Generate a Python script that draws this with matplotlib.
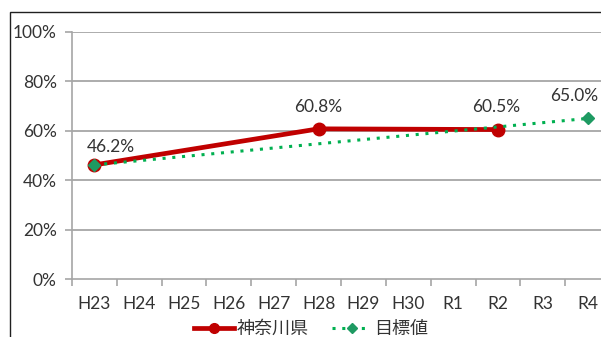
import matplotlib
matplotlib.use("Agg")
import matplotlib.pyplot as plt
import numpy as np
from matplotlib.patches import Rectangle
from matplotlib.lines import Line2D

categories = ["H23", "H24", "H25", "H26", "H27", "H28", "H29", "H30", "R1", "R2", "R3", "R4"]
kanagawa = [46.2, None, None, None, None, 60.8, None, None, None, 60.5, None, None]
target = [46.2, None, None, None, None, None, None, None, None, None, None, 65.0]
y_ticks = [0, 20, 40, 60, 80, 100]
y_tick_labels = ["0%", "20%", "40%", "60%", "80%", "100%"]

FONT = ["Lato", "Noto Sans CJK JP", "DejaVu Sans"]
plt.rcParams["font.family"] = FONT

fig = plt.figure(figsize=(6.01, 3.37), dpi=100)
W, H = 601, 337
ax = fig.add_axes([72 / W, 1 - 279 / H, 538 / W, (279 - 32) / H])

red = "#C00000"
green_line = "#00B050"
green_mk = "#1E9A62"
grid_c = "#A6A6A6"
txt_c = "#333333"

for y in y_ticks[1:]:
    ax.axhline(y, color=grid_c, lw=1.3, zorder=0)

kx = [i for i, v in enumerate(kanagawa) if v is not None]
ky = [v for v in kanagawa if v is not None]
tx = [i for i, v in enumerate(target) if v is not None]
ty = [v for v in target if v is not None]

ax.plot(kx, ky, color=red, lw=3.4, marker="o", ms=9, mfc=red, mec=red, zorder=3,
        solid_capstyle="round")
ax.plot(tx, ty, color=green_line, lw=2.2, ls=(0, (1, 2.2)), marker="D", ms=6,
        mfc=green_mk, mec=green_mk, zorder=4)

label_offsets = {0: (12, 13), 5: (0, 15.5), 9: (-1, 16)}
for x, v in zip(kx, ky):
    dx, dy = label_offsets[x]
    ax.annotate(f"{v:.1f}%", (x, v), xytext=(dx, dy), textcoords="offset points",
                ha="center", va="center", fontsize=12.5, color=txt_c)
ax.annotate(f"{ty[-1]:.1f}%", (tx[-1], ty[-1]), xytext=(-10, 16), textcoords="offset points",
            ha="center", va="center", fontsize=12.5, color=txt_c)

ax.set_xlim(-0.5, len(categories) - 0.5)
ax.set_ylim(0, 100)
ax.set_yticks(y_ticks)
ax.set_yticklabels(y_tick_labels, fontsize=12.5, color=txt_c)
ax.set_xticks(range(len(categories)))
ax.set_xticklabels(categories, fontsize=12.5, color=txt_c)
ax.set_xticks(np.arange(-0.5, len(categories), 1), minor=True)
ax.tick_params(axis="x", which="major", length=0, pad=12)
ax.tick_params(axis="x", which="minor", length=5, color=grid_c, width=1.2)
ax.tick_params(axis="y", length=5, color=grid_c, width=1.2, pad=6)
for s in ["top", "right"]:
    ax.spines[s].set_visible(False)
ax.spines["left"].set_color(grid_c)
ax.spines["bottom"].set_color(grid_c)
ax.spines["left"].set_linewidth(1.2)
ax.spines["bottom"].set_linewidth(1.2)
ax.patch.set_alpha(0)

handles = [
    Line2D([], [], color=red, lw=3.4, marker="o", ms=7, mfc=red, mec=red),
    Line2D([], [], color=green_line, lw=2.2, ls=(0, (1, 2.2)), marker="D", ms=5,
           mfc=green_mk, mec=green_mk),
]
fig.legend(handles, ["神奈川県", "目標値"], loc="center", bbox_to_anchor=(311 / W, 1 - 329 / H),
           ncol=2, frameon=False, handlelength=2.2, handletextpad=0.15,
           columnspacing=1.3, prop={"family": FONT, "size": 13}, labelcolor=txt_c)

fig.add_artist(Rectangle((10 / W, -0.1), 1.2, 1 - 12 / H + 0.1, transform=fig.transFigure,
                         fill=False, ec="#202020", lw=1.0))

fig.savefig("out.png", dpi=100)
